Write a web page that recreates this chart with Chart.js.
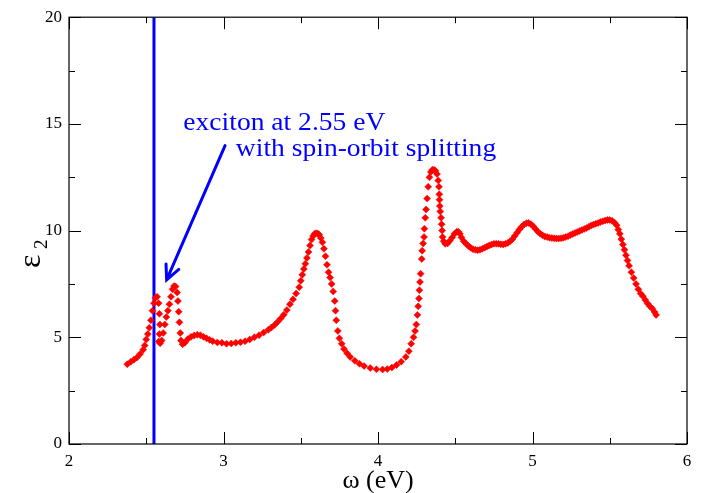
<!DOCTYPE html>
<html>
<head>
<meta charset="utf-8">
<script src="https://cdn.jsdelivr.net/npm/chart.js@4/dist/chart.umd.min.js"></script>
<style>
  body { margin: 0; background: #fff; }
  canvas { display: block; }
</style>
</head>
<body>
<canvas id="eps2Chart" width="701" height="493"></canvas>
<script>
"use strict";

// photon energy (eV) and imaginary part of the dielectric function
const omega = [
  2.377, 2.40, 2.42, 2.44, 2.46, 2.48, 2.49, 2.50, 2.51, 2.52, 2.53, 2.54, 2.55, 2.56, 2.57,
  2.58, 2.585, 2.588, 2.585, 2.58, 2.59, 2.60, 2.61, 2.62, 2.63, 2.64, 2.65, 2.66, 2.67, 2.68,
  2.69, 2.70, 2.705, 2.71, 2.715, 2.72, 2.725, 2.735, 2.75, 2.77, 2.79, 2.81, 2.83, 2.85, 2.87,
  2.89, 2.91, 2.93, 2.96, 2.99, 3.02, 3.05, 3.08, 3.11, 3.14, 3.17, 3.20, 3.23, 3.26, 3.29,
  3.31, 3.33, 3.35, 3.37, 3.39, 3.41, 3.43, 3.45, 3.47, 3.49, 3.50, 3.51, 3.52, 3.53, 3.54,
  3.55, 3.56, 3.57, 3.58, 3.59, 3.60, 3.61, 3.62, 3.63, 3.64, 3.65, 3.66, 3.67, 3.68, 3.69,
  3.70, 3.71, 3.72, 3.725, 3.73, 3.74, 3.75, 3.765, 3.78, 3.80, 3.82, 3.85, 3.88, 3.91, 3.95,
  3.99, 4.03, 4.06, 4.09, 4.12, 4.15, 4.18, 4.20, 4.215, 4.23, 4.24, 4.248, 4.255, 4.26, 4.265,
  4.268, 4.272, 4.276, 4.283, 4.286, 4.292, 4.298, 4.30, 4.306, 4.311, 4.318, 4.325, 4.333, 4.342, 4.352,
  4.362, 4.372, 4.382, 4.39, 4.395, 4.397, 4.398, 4.40, 4.403, 4.408, 4.412, 4.415, 4.418, 4.425, 4.435,
  4.45, 4.465, 4.48, 4.495, 4.51, 4.52, 4.53, 4.54, 4.555, 4.57, 4.585, 4.60, 4.615, 4.63, 4.645,
  4.66, 4.675, 4.69, 4.705, 4.72, 4.735, 4.75, 4.765, 4.78, 4.795, 4.81, 4.825, 4.84, 4.855, 4.87,
  4.885, 4.90, 4.915, 4.93, 4.945, 4.96, 4.975, 4.99, 5.005, 5.02, 5.035, 5.05, 5.065, 5.08, 5.095,
  5.11, 5.125, 5.14, 5.155, 5.17, 5.185, 5.20, 5.215, 5.23, 5.245, 5.26, 5.275, 5.29, 5.305, 5.32,
  5.335, 5.35, 5.365, 5.38, 5.395, 5.41, 5.425, 5.44, 5.455, 5.47, 5.485, 5.50, 5.515, 5.53, 5.545,
  5.555, 5.565, 5.575, 5.585, 5.595, 5.605, 5.615, 5.625, 5.64, 5.655, 5.67, 5.685, 5.70, 5.715, 5.73,
  5.745, 5.76, 5.775, 5.79, 5.80
];
const eps2 = [
  3.74, 3.85, 3.95, 4.05, 4.22, 4.42, 4.62, 4.90, 5.15, 5.45, 5.80, 6.25, 6.60, 6.85, 6.90,
  6.60, 6.10, 5.60, 5.15, 4.80, 4.72, 4.85, 5.20, 5.60, 5.95, 6.25, 6.55, 6.90, 7.25, 7.40,
  7.38, 7.10, 6.70, 6.20, 5.70, 5.20, 4.85, 4.68, 4.75, 4.92, 5.02, 5.08, 5.12, 5.10, 5.02,
  4.95, 4.88, 4.82, 4.76, 4.74, 4.70, 4.71, 4.74, 4.77, 4.82, 4.90, 5.00, 5.10, 5.22, 5.35,
  5.46, 5.58, 5.72, 5.88, 6.06, 6.28, 6.55, 6.78, 7.05, 7.35, 7.65, 7.93, 8.20, 8.45, 8.72,
  9.00, 9.30, 9.58, 9.75, 9.85, 9.88, 9.86, 9.80, 9.65, 9.45, 9.15, 8.80, 8.40, 8.05, 7.80,
  7.50, 7.15, 6.70, 6.25, 5.80, 5.30, 4.95, 4.70, 4.45, 4.25, 4.08, 3.90, 3.76, 3.65, 3.56,
  3.50, 3.49, 3.51, 3.58, 3.70, 3.86, 4.08, 4.35, 4.70, 5.00, 5.30, 5.60, 6.05, 6.45, 6.82,
  7.21, 7.59, 7.98, 8.67, 9.06, 9.40, 9.70, 10.09, 10.60, 10.99, 11.50, 12.05, 12.50, 12.75, 12.85,
  12.85, 12.80, 12.65, 12.35, 12.05, 11.70, 11.45, 11.15, 10.90, 10.60, 10.30, 10.00, 9.70, 9.50, 9.38,
  9.40, 9.52, 9.68, 9.85, 9.95, 9.95, 9.85, 9.68, 9.50, 9.38, 9.28, 9.20, 9.13, 9.10, 9.08,
  9.10, 9.15, 9.20, 9.25, 9.30, 9.35, 9.38, 9.38, 9.38, 9.36, 9.35, 9.38, 9.42, 9.50, 9.60,
  9.75, 9.90, 10.05, 10.18, 10.28, 10.35, 10.36, 10.30, 10.20, 10.07, 9.95, 9.85, 9.78, 9.72, 9.70,
  9.67, 9.65, 9.64, 9.63, 9.63, 9.64, 9.66, 9.70, 9.74, 9.79, 9.84, 9.89, 9.94, 9.98, 10.03,
  10.08, 10.12, 10.18, 10.24, 10.28, 10.32, 10.36, 10.40, 10.44, 10.47, 10.50, 10.50, 10.46, 10.38, 10.25,
  10.05, 9.85, 9.60, 9.35, 9.10, 8.85, 8.60, 8.35, 8.05, 7.78, 7.50, 7.25, 7.05, 6.92, 6.75,
  6.58, 6.45, 6.35, 6.18, 6.05
];

// exciton marker line and annotation
const excitonOmega = [2.55, 2.55];
const excitonEps = [0, 20];
const arrowFrom = [3.01, 13.98];
const arrowTo = [2.632, 7.69];
const noteLines = ["exciton at 2.55 eV", "with spin-orbit splitting"];
const noteAt = [[2.74, 14.7], [3.08, 13.5]];

const xTicks = [2, 3, 4, 5, 6];
const yTicks = [0, 5, 10, 15, 20];

const points = [];
for (let i = 0; i < omega.length; i++) {
  points.push({ x: omega[i], y: eps2[i] });
}
const excitonLine = [];
for (let i = 0; i < excitonOmega.length; i++) {
  excitonLine.push({ x: excitonOmega[i], y: excitonEps[i] });
}

const SERIF = "'Liberation Serif', 'DejaVu Serif', serif";

const frameAndNotes = {
  id: "frameAndNotes",
  afterDatasetsDraw(chart) {
    const ctx = chart.ctx;
    const xs = chart.scales.x;
    const ys = chart.scales.y;
    const a = chart.chartArea;
    ctx.save();

    // frame
    ctx.strokeStyle = "#000";
    ctx.lineWidth = 1.2;
    ctx.strokeRect(a.left, a.top, a.right - a.left, a.bottom - a.top);

    // inward ticks on all four sides
    ctx.beginPath();
    for (let v = xTicks[0]; v <= xTicks[xTicks.length - 1] + 1e-9; v += 0.5) {
      const len = Math.abs(v - Math.round(v)) < 1e-6 ? 12 : 6;
      const px = Math.round(xs.getPixelForValue(v)) + 0.5;
      ctx.moveTo(px, a.bottom); ctx.lineTo(px, a.bottom - len);
      ctx.moveTo(px, a.top); ctx.lineTo(px, a.top + len);
    }
    for (let v = yTicks[0]; v <= yTicks[yTicks.length - 1] + 1e-9; v += 2.5) {
      const len = Math.abs(v / 5 - Math.round(v / 5)) < 1e-6 ? 12 : 6;
      const py = Math.round(ys.getPixelForValue(v)) + 0.5;
      ctx.moveTo(a.left, py); ctx.lineTo(a.left + len, py);
      ctx.moveTo(a.right, py); ctx.lineTo(a.right - len, py);
    }
    ctx.lineWidth = 1;
    ctx.stroke();

    // arrow
    const x0 = xs.getPixelForValue(arrowFrom[0]);
    const y0 = ys.getPixelForValue(arrowFrom[1]);
    const x1 = xs.getPixelForValue(arrowTo[0]);
    const y1 = ys.getPixelForValue(arrowTo[1]);
    const ang = Math.atan2(y1 - y0, x1 - x0);
    ctx.strokeStyle = "#0000ff";
    ctx.lineWidth = 3;
    ctx.lineCap = "round";
    ctx.beginPath();
    ctx.moveTo(x0, y0);
    ctx.lineTo(x1, y1);
    ctx.moveTo(x1 - 16 * Math.cos(ang - 0.45), y1 - 16 * Math.sin(ang - 0.45));
    ctx.lineTo(x1, y1);
    ctx.lineTo(x1 - 16 * Math.cos(ang + 0.45), y1 - 16 * Math.sin(ang + 0.45));
    ctx.stroke();

    // annotation text
    ctx.fillStyle = "#0000ff";
    ctx.font = "26px " + SERIF;
    ctx.textBaseline = "alphabetic";
    ctx.textAlign = "left";
    for (let i = 0; i < noteLines.length; i++) {
      const tx = xs.getPixelForValue(noteAt[i][0]);
      const ty = ys.getPixelForValue(noteAt[i][1]);
      ctx.save();
      ctx.translate(tx, ty);
      ctx.scale(1.06, 1);
      ctx.fillText(noteLines[i], 0, 0);
      ctx.restore();
    }

    // axis titles
    ctx.fillStyle = "#000";
    ctx.font = "26px " + SERIF;
    ctx.textAlign = "center";
    ctx.fillText("\u03c9 (eV)", (a.left + a.right) / 2, 488);

    ctx.save();
    ctx.translate(40, 258);
    ctx.rotate(-Math.PI / 2);
    ctx.textAlign = "left";
    ctx.font = "32px " + SERIF;
    ctx.fillText("\u03b5", -10, 0);
    ctx.font = "19px " + SERIF;
    ctx.fillText("2", 9, 7);
    ctx.restore();

    ctx.restore();
  }
};

const config = {
  type: "scatter",
  data: {
    datasets: [
      {
        label: "eps2",
        data: points,
        showLine: false,
        pointStyle: "rectRot",
        pointRadius: 3.5,
        pointBackgroundColor: "#ff0000",
        pointBorderColor: "#ff0000",
        pointBorderWidth: 0.5,
      },
      {
        label: "exciton",
        data: excitonLine,
        showLine: true,
        pointRadius: 0,
        borderColor: "#0000ff",
        borderWidth: 3,
      },
    ],
  },
  options: {
    responsive: false,
    animation: false,
    devicePixelRatio: 1,
    layout: { padding: { left: 0, right: 14, top: 12, bottom: 0 } },
    plugins: {
      legend: { display: false },
      tooltip: { enabled: false },
    },
    scales: {
      x: {
        type: "linear",
        min: 2,
        max: 6,
        afterFit: (s) => { s.height = 49; },
        afterBuildTicks: (s) => { s.ticks = xTicks.map((v) => ({ value: v })); },
        grid: { display: false, drawTicks: false },
        border: { display: false },
        ticks: { padding: 7, color: "#000", font: { family: SERIF, size: 17 } },
      },
      y: {
        type: "linear",
        min: 0,
        max: 20,
        afterFit: (s) => { s.width = 69; },
        afterBuildTicks: (s) => { s.ticks = yTicks.map((v) => ({ value: v })); },
        grid: { display: false, drawTicks: false },
        border: { display: false },
        ticks: { padding: 7, color: "#000", font: { family: SERIF, size: 17 } },
      },
    },
  },
  plugins: [frameAndNotes],
};

const eps2Chart = new Chart(document.getElementById("eps2Chart"), config);
</script>
</body>
</html>
